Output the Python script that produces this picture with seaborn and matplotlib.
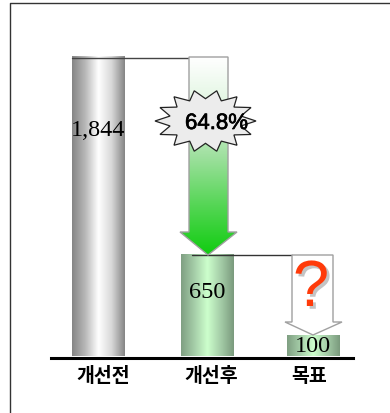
import numpy as np
import pandas as pd
import matplotlib
matplotlib.use("Agg")
import matplotlib.pyplot as plt
import matplotlib.patheffects as pe
from matplotlib.colors import LinearSegmentedColormap
from matplotlib.patches import Polygon
import seaborn as sns

categories = ["개선전", "개선후", "목표"]
drawn_heights = [1844, 627, 129]
value_labels = ["1,844", "650", "100"]

W, H = 390, 413
sns.set_theme(style="white")
plt.rcParams["font.family"] = ["Noto Sans CJK KR", "DejaVu Sans"]

fig = plt.figure(figsize=(W / 100, H / 100), dpi=100, facecolor="white")
L, R, T, B = 51, 353, 57, 357.5
ax = fig.add_axes([L / W, 1 - B / H, (R - L) / W, (B - T) / H])
df = pd.DataFrame({"stage": categories, "height": drawn_heights})
sns.barplot(data=df, x="stage", y="height", ax=ax, width=0.484, color="#999999", saturation=1)
ax.set_xlim(-0.437, 2.372)
ax.set_ylim(0, 1844)
ax.set_xlabel("")
ax.set_ylabel("")
ax.set_yticks([])
ax.set_xticks([])
for s in ["top", "left", "right"]:
    ax.spines[s].set_visible(False)
ax.spines["bottom"].set_linewidth(2.2)
ax.spines["bottom"].set_color("#000000")
ax.patch.set_alpha(0)

# overlay in pixel coordinates, y downward
px = fig.add_axes([0, 0, 1, 1], zorder=5)
px.set_xlim(0, W)
px.set_ylim(H, 0)
px.axis("off")
px.patch.set_alpha(0)

# frame: left and top edges only
px.plot([10, 10, W], [H, 2.5, 2.5], color="#333333", lw=1.0, zorder=1)


def gradient(stops, vertical=False):
    cmap = LinearSegmentedColormap.from_list("g", stops)
    g = np.linspace(0, 1, 256)
    return cmap, (g[:, None] if vertical else g[None, :])


gray = gradient(["#858585", "#b8b8b8", "#ffffff", "#d8d8d8", "#858585"])
green = gradient(["#7f9f82", "#a5cda8", "#ccffcc", "#a5cda8", "#7a9a7d"])
styles = [gray, green, green]
nudges = [0, 1.5, 0]
label_y = [131, 293, 346.5]
cat_x = [103, 211, 309]

for bar, (cmap, g), txt, dx, ty in zip(ax.patches, styles, value_labels, nudges, label_y):
    bar.set_visible(False)
    x0 = ax.transData.transform((bar.get_x(), 0))[0] + dx
    x1 = ax.transData.transform((bar.get_x() + bar.get_width(), 0))[0] + dx
    ytop = H - ax.transData.transform((0, bar.get_height()))[1]
    px.imshow(g, cmap=cmap, extent=(x0, x1, 356.5, ytop), aspect="auto", zorder=2)
    px.text((x0 + x1) / 2, ty, txt, family="Liberation Serif", fontsize=17.5,
            color="black", ha="center", va="center", zorder=7)

px.set_xlim(0, W)
px.set_ylim(H, 0)

# connectors
px.plot([72, 201], [57.5, 57.5], color="#444444", lw=1.0, zorder=3)
px.plot([192, 292], [255, 255], color="#333333", lw=1.0, zorder=3)

# green arrow
arrow1 = [(189, 57), (228, 57), (228, 232), (237, 232), (208, 255), (180, 232), (189, 232)]
cm, g = gradient(["#ffffff", "#dff5df", "#9fe09f", "#55d655", "#10cc10"], vertical=True)
im = px.imshow(g, cmap=cm, extent=(180, 237, 255, 57), aspect="auto", zorder=3)
poly = Polygon(arrow1, closed=True, transform=px.transData, fc="none", ec="#a0a0a0", lw=1.0, zorder=4)
px.add_patch(poly)
im.set_clip_path(poly)

# white arrow
arrow2 = [(292, 255), (333, 255), (333, 322), (342, 322), (313, 335), (285, 322), (292, 322)]
px.add_patch(Polygon(arrow2, closed=True, fc="white", ec="#a0a0a0", lw=1.0, zorder=4))

# question mark with a soft offset shadow
px.text(311, 289, "?", family="Liberation Sans", fontsize=47, color="#ff3b0a",
        ha="center", va="center", zorder=5,
        path_effects=[pe.withSimplePatchShadow(offset=(2, -2), shadow_rgbFace="#c4c4c4", alpha=1)])

# starburst
n_points = 14
angles = np.linspace(0, 2 * np.pi, 2 * n_points, endpoint=False)
radii = np.where(np.arange(2 * n_points) % 2 == 0, 1.0, 0.72)
star = np.column_stack([205.5 + 50.5 * radii * np.cos(angles), 121 + 31 * radii * np.sin(angles)])
px.add_patch(Polygon(star, closed=True, fc="#ececec", ec="#222222", lw=0.9, zorder=5))
px.text(216.5, 123.5, "64.8%", family="Liberation Sans", fontsize=16, color="black",
        ha="center", va="center", zorder=6,
        path_effects=[pe.withStroke(linewidth=0.5, foreground="black")])

# category labels
for cx, cat in zip(cat_x, categories):
    px.text(cx, 376, cat, fontsize=14, fontweight="bold", color="black",
            ha="center", va="center", zorder=6)

fig.savefig("out.png", dpi=100)
